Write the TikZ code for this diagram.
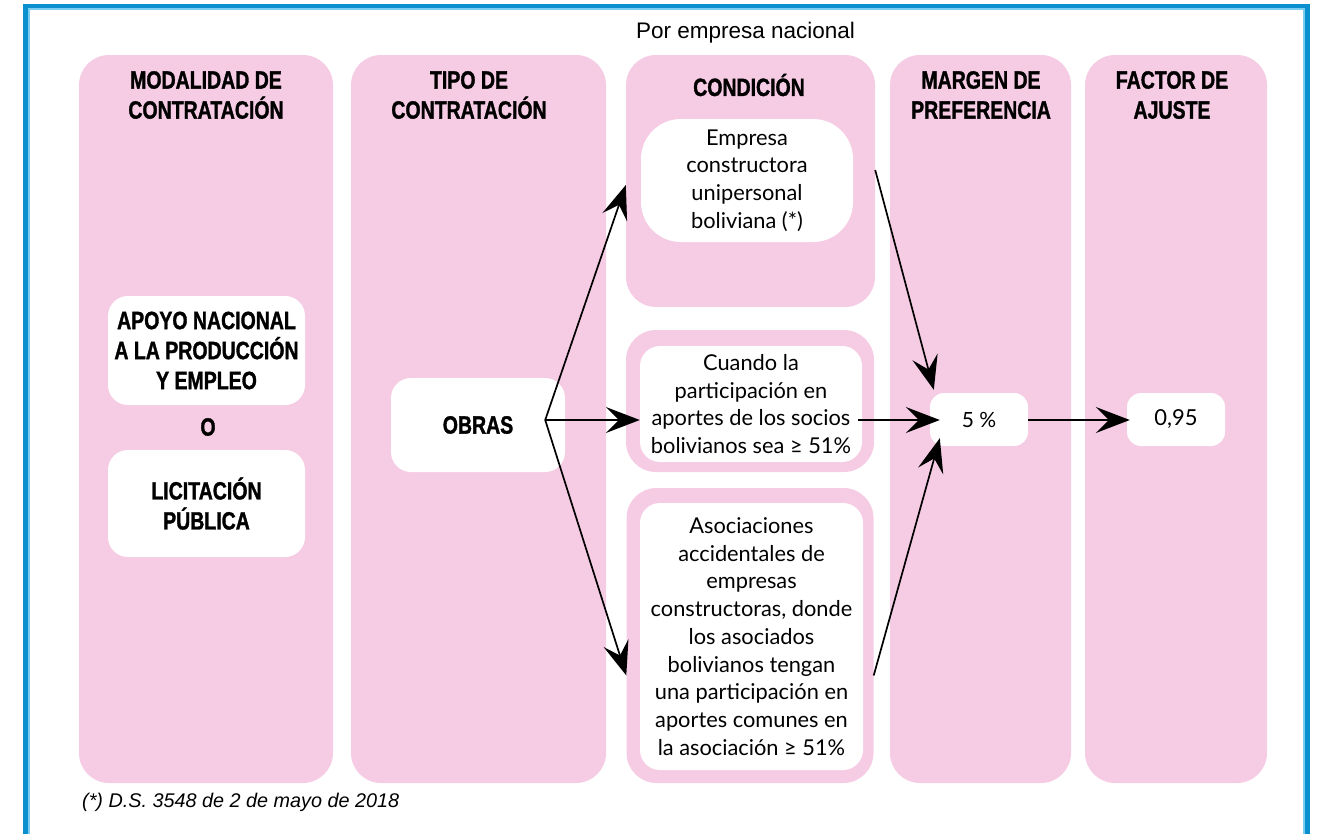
\documentclass[tikz,border=0pt]{standalone}
\usepackage{fontspec}
\setmainfont{Lato}
\newfontfamily\hdrfont[FakeStretch=0.78,BoldFeatures={FakeBold=1.3}]{Liberation Sans}
\newfontfamily\notefont{Liberation Sans}
\usetikzlibrary{arrows.meta}
\definecolor{pinkbg}{HTML}{F6CCE4}
\definecolor{framedark}{HTML}{0A90CE}
\definecolor{framelight}{HTML}{7CCBF0}
\tikzset{
  col/.style={fill=pinkbg, draw=none, rounded corners=30pt, inner sep=0pt},
  wbox/.style={fill=white, draw=none, rounded corners=20pt, inner sep=0pt, align=center,
     font=\fontsize{21.8}{27.7}\selectfont},
  hdr/.style={align=center, font=\hdrfont\bfseries\fontsize{25}{30}\selectfont, inner sep=0pt},
  hdrw/.style={wbox, font=\hdrfont\bfseries\fontsize{25}{30}\selectfont},
  arr/.style={line width=1.7pt, -{Stealth[length=34pt,width=26pt,inset=13pt]}},
}
\begin{document}
\begin{tikzpicture}[x=1pt,y=-1pt]
\useasboundingbox (0,0) rectangle (1324,833);
% frame
\draw[framedark, line width=5pt] (25.5,840) -- (25.5,6) -- (1307.5,6) -- (1307.5,840);
\draw[framelight, line width=2pt] (29,840) -- (29,9) -- (1304,9) -- (1304,840);
% title
\node[inner sep=0pt, font=\notefont\fontsize{22.5}{26}\selectfont] (title) at (745.5,33) {Por empresa nacional};
% columns
\node[col, minimum width=254pt, minimum height=728pt] (col1) at (206,419) {};
\node[col, minimum width=255pt, minimum height=728pt] (col2) at (478.5,419) {};
\node[col, minimum width=249pt, minimum height=252pt] (col3a) at (750.5,181) {};
\node[col, minimum width=248pt, minimum height=142pt] (col3b) at (750,401) {};
\node[col, minimum width=247pt, minimum height=295pt] (col3c) at (750,635.5) {};
\node[col, minimum width=181pt, minimum height=728pt] (col4) at (980.5,419) {};
\node[col, minimum width=182pt, minimum height=728pt] (col5) at (1176,419) {};
% headers
\node[hdr] (h1) at (206,95) {MODALIDAD DE\\CONTRATACIÓN};
\node[hdr] (h2) at (469,95) {TIPO DE\\CONTRATACIÓN};
\node[hdr] (h3) at (749,85) {CONDICIÓN};
\node[hdr] (h4) at (981,95) {MARGEN DE\\PREFERENCIA};
\node[hdr] (h5) at (1172,95) {FACTOR DE\\AJUSTE};
% column 1
\node[hdrw, minimum width=197pt, minimum height=109pt] (apoyo) at (206.5,350.5) {APOYO NACIONAL\\A LA PRODUCCIÓN\\Y EMPLEO};
\node[hdr] (o) at (208,427) {O};
\node[hdrw, minimum width=197pt, minimum height=107pt] (licit) at (206.5,503.5) {LICITACIÓN\\PÚBLICA};
% column 2
\node[hdrw, minimum width=174pt, minimum height=94pt] (obras) at (478,425) {OBRAS};
% column 3
\node[wbox, rounded corners=40pt, minimum width=212pt, minimum height=123pt] (empresa) at (747,180.5) {Empresa\\constructora\\unipersonal\\boliviana (*)};
\node[wbox, minimum width=222pt, minimum height=116pt] (cuando) at (751,404) {Cuando la\\participación en\\aportes de los socios\\bolivianos sea ≥ 51\%};
\node[wbox, minimum width=223pt, minimum height=267pt] (asoc) at (751.5,636.5) {Asociaciones\\accidentales de\\empresas\\constructoras, donde\\los asociados\\bolivianos tengan\\una participación en\\aportes comunes en\\la asociación ≥ 51\%};
% column 4, 5
\node[wbox, rounded corners=14pt, minimum width=98pt, minimum height=53pt, font=\fontsize{21}{24}\selectfont] (pct) at (979,419.5) {5 \%};
\node[wbox, rounded corners=14pt, minimum width=98pt, minimum height=53pt, font=\fontsize{22}{24}\selectfont] (fac) at (1176,419.5) {0,95};
% footnote
\node[anchor=west, inner sep=0pt, font=\notefont\itshape\fontsize{19.8}{22}\selectfont] (note) at (82,802) {(*) D.S. 3548 de 2 de mayo de 2018};
% arrows
\coordinate (ostart) at ([xshift=-20pt,yshift=5pt]obras.east);
\draw[arr] (ostart) -- ([yshift=-4pt]col3a.west);
\draw[arr] (ostart) -- (ostart -| cuando.west);
\draw[arr] (ostart) -- ([yshift=-40pt]col3c.west);
\draw[arr] ([yshift=11pt]col3a.east) -- ([xshift=4pt,yshift=3pt]pct.north west);
\draw[arr] ([xshift=-4pt]ostart -| cuando.east) -- ([xshift=10pt]ostart -| pct.west);
\draw[arr] ([yshift=-40pt]col3c.east) -- ([xshift=10pt,yshift=8pt]pct.south west);
\draw[arr] (ostart -| pct.east) -- ([xshift=3pt]ostart -| fac.west);
\end{tikzpicture}
\end{document}
